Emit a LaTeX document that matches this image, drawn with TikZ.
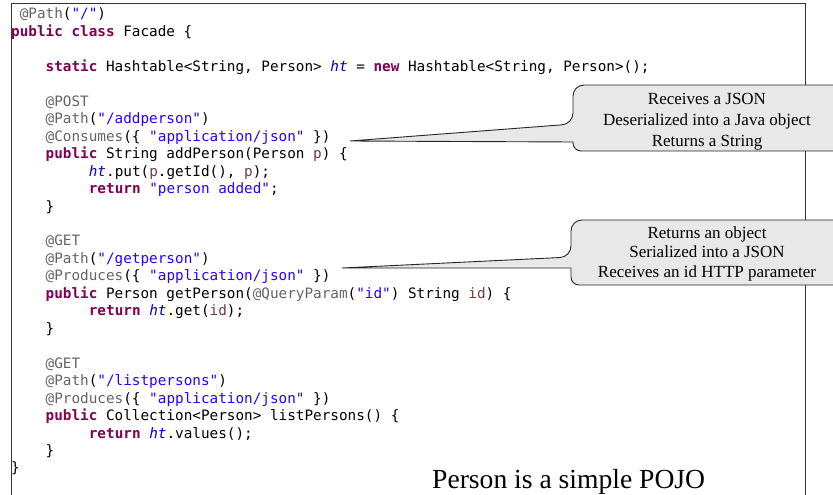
\documentclass[tikz,border=0pt]{standalone}
\usepackage{fontspec}
\setmainfont{Liberation Serif}
\setmonofont{DejaVu Sans Mono}
\definecolor{kwc}{HTML}{7F0055}
\definecolor{strc}{HTML}{2A00FF}
\definecolor{annc}{HTML}{646464}
\definecolor{fldc}{HTML}{0000C0}
\definecolor{prmc}{HTML}{6A3E3E}
\definecolor{callfill}{HTML}{E8E8E8}
\newcommand{\kw}[1]{\textcolor{kwc}{\bfseries #1}}
\newcommand{\strl}[1]{\textcolor{strc}{#1}}
\newcommand{\ann}[1]{\textcolor{annc}{#1}}
\newcommand{\fld}[1]{\textcolor{fldc}{\itshape #1}}
\newcommand{\prm}[1]{\textcolor{prmc}{#1}}
\begin{document}
\begin{tikzpicture}[x=1pt,y=-1pt,
  codeline/.style={anchor=base west, inner sep=0pt, font=\ttfamily\fontsize{14.33}{17}\selectfont},
  callout/.style={draw=black!85, fill=callfill, line width=0.9pt},
  calltext/.style={align=center, inner sep=0pt, font=\fontsize{17}{20.5}\selectfont},
  frameline/.style={draw=black!80, line width=1pt}]
\useasboundingbox (0,0) rectangle (833,495);
\clip (0,0) rectangle (833,495);
\fill[white] (0,0) rectangle (833,495);
\def\cw{8.63}
\def\ls{17.46}
% frame
\draw[frameline] (11,520) -- (11,4) -- (805,4) -- (805,520);
% code
\node[codeline] (l0)  at ({11+1*\cw},{19+0*\ls})  {\ann{@Path}(\strl{"/"})};
\node[codeline] (l1)  at ({11+0*\cw},{19+1*\ls})  {\kw{public} \kw{class} Facade \{};
\node[codeline] (l3)  at ({11+4*\cw},{19+3*\ls})  {\kw{static} Hashtable<String, Person> \fld{ht} = \kw{new} Hashtable<String, Person>();};
\node[codeline] (l5)  at ({11+4*\cw},{19+5*\ls})  {\ann{@POST}};
\node[codeline] (l6)  at ({11+4*\cw},{19+6*\ls})  {\ann{@Path}(\strl{"/addperson"})};
\node[codeline] (l7)  at ({11+4*\cw},{19+7*\ls})  {\ann{@Consumes}(\{ \strl{"application/json"} \})};
\node[codeline] (l8)  at ({11+4*\cw},{19+8*\ls})  {\kw{public} String addPerson(Person \prm{p}) \{};
\node[codeline] (l9)  at ({11+9*\cw},{19+9*\ls})  {\fld{ht}.put(\prm{p}.getId(), \prm{p});};
\node[codeline] (l10) at ({11+9*\cw},{19+10*\ls}) {\kw{return} \strl{"person added"};};
\node[codeline] (l11) at ({11+4*\cw},{19+11*\ls}) {\}};
\node[codeline] (l13) at ({11+4*\cw},{19+13*\ls}) {\ann{@GET}};
\node[codeline] (l14) at ({11+4*\cw},{19+14*\ls}) {\ann{@Path}(\strl{"/getperson"})};
\node[codeline] (l15) at ({11+4*\cw},{19+15*\ls}) {\ann{@Produces}(\{ \strl{"application/json"} \})};
\node[codeline] (l16) at ({11+4*\cw},{19+16*\ls}) {\kw{public} Person getPerson(\ann{@QueryParam}(\strl{"id"}) String \prm{id}) \{};
\node[codeline] (l17) at ({11+9*\cw},{19+17*\ls}) {\kw{return} \fld{ht}.get(\prm{id});};
\node[codeline] (l18) at ({11+4*\cw},{19+18*\ls}) {\}};
\node[codeline] (l20) at ({11+4*\cw},{19+20*\ls}) {\ann{@GET}};
\node[codeline] (l21) at ({11+4*\cw},{19+21*\ls}) {\ann{@Path}(\strl{"/listpersons"})};
\node[codeline] (l22) at ({11+4*\cw},{19+22*\ls}) {\ann{@Produces}(\{ \strl{"application/json"} \})};
\node[codeline] (l23) at ({11+4*\cw},{19+23*\ls}) {\kw{public} Collection<Person> listPersons() \{};
\node[codeline] (l24) at ({11+9*\cw},{19+24*\ls}) {\kw{return} \fld{ht}.values();};
\node[codeline] (l25) at ({11+4*\cw},{19+25*\ls}) {\}};
\node[codeline] (l26) at ({11+0*\cw},{19+26*\ls}) {\}};
% callout 1
\coordinate (t1) at (350,141);
\draw[callout] (860,85) [rounded corners=11pt] -- (573,85) -- (573,124) [sharp corners] -- (t1) -- (573,142) [rounded corners=8pt] -- (573,151) -- (860,151) [sharp corners] -- cycle;
\node[calltext, font=\fontsize{17}{21}\selectfont] (c1) at (707,122) {Receives a JSON\\Deserialized into a Java object\\Returns a String};
% callout 2
\coordinate (t2) at (342,268);
\draw[callout] (860,220) [rounded corners=11pt] -- (571,220) -- (571,257) [sharp corners] -- (t2) -- (571,268) [rounded corners=8pt] -- (571,285) -- (860,285) [sharp corners] -- cycle;
\node[calltext, font=\fontsize{17}{19.5}\selectfont] (c2) at (707,253.5) {Returns an object\\Serialized into a JSON\\Receives an id HTTP parameter};
% footer note
\node[anchor=base west, inner sep=0pt, font=\fontsize{27.6}{32}\selectfont] (pojo) at (432,488) {Person is a simple POJO};
\end{tikzpicture}
\end{document}
